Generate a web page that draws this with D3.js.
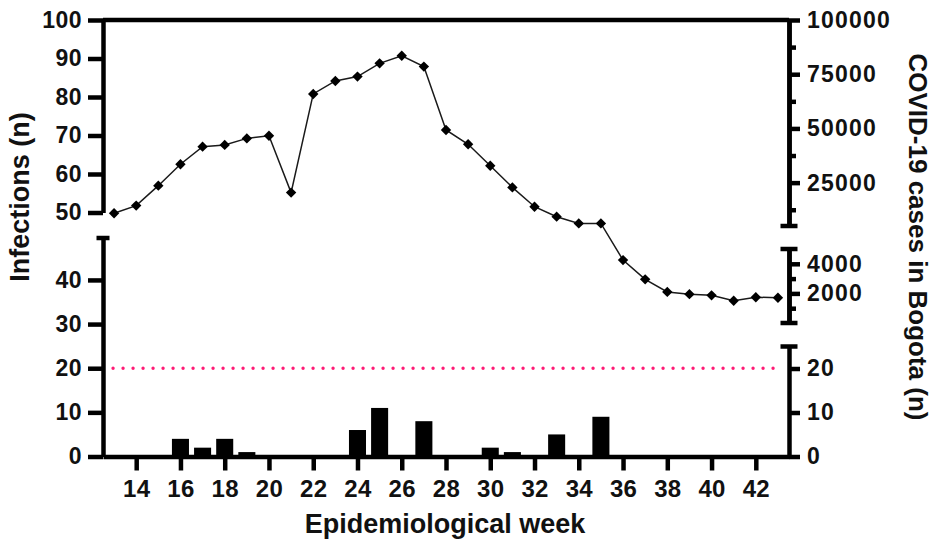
<!DOCTYPE html>
<html>
<head>
<meta charset="utf-8">
<script src="https://cdn.jsdelivr.net/npm/d3@7"></script>
<style>
  body { margin: 0; background: #fff; }
</style>
</head>
<body>
<div id="chart"></div>
<script>
// Values
const weeks = [13, 14, 15, 16, 17, 18, 19, 20, 21, 22, 23, 24, 25, 26, 27, 28,
               29, 30, 31, 32, 33, 34, 35, 36, 37, 38, 39, 40, 41, 42, 43];
const infections = [0, 0, 0, 4, 2, 4, 1, 0, 0, 0, 0, 6, 11, 0, 8, 0,
                    0, 2, 1, 0, 5, 0, 9, 0, 0, 0, 0, 0, 0, 0, 0];
const cases = [10900, 14400, 23600, 33500, 41600, 42400, 45400, 46600, 20400, 65900, 71900,
               73900, 80000, 83500, 78500, 49300, 42700, 32800, 22800, 13900, 9300, 6200,
               6200, 4250, 2950, 2100, 1950, 1870, 1500, 1740, 1710];
const threshold = 20;

// Tick labels
const weekTicks = [14, 16, 18, 20, 22, 24, 26, 28, 30, 32, 34, 36, 38, 40, 42];
const leftTicksLow = [0, 10, 20, 30, 40];
const leftTicksHigh = [50, 60, 70, 80, 90, 100];
const rightTicksLow = [0, 10, 20];
const rightTicksMid = [2000, 4000];
const rightMinorMid = [1000, 3000];
const rightTicksHigh = [25000, 50000, 75000, 100000];
const rightMinorHigh = [12500, 37500, 62500, 87500];

const width = 935, height = 545;
const FONT = "Arial, 'Liberation Sans', Helvetica, sans-serif";
const axisW = 4.5;

const svg = d3.select("#chart")
  .append("svg")
  .attr("width", width)
  .attr("height", height);

// x scale (weeks)
const x = d3.scaleLinear().domain([12.5, 43.5]).range([103, 789]);
const xL = x.range()[0], xR = x.range()[1];

// broken y scales
const yLeftLow = d3.scaleLinear().domain([0, 49.5]).range([456.5, 238]);
const yLeftHigh = d3.scaleLinear().domain([50, 100]).range([212.5, 20]);
const yRightLow = d3.scaleLinear().domain([0, 25]).range([456.5, 346.5]);
const yRightMid = d3.scaleLinear().domain([0, 5000]).range([323, 249]);
const yRightHigh = d3.scaleLinear().domain([5000, 100000]).range([226, 20]);
const yCases = v => v <= 5000 ? yRightMid(v) : yRightHigh(v);

function styleAxis(g, size, spacing) {
  g.attr("font-family", FONT).attr("font-size", size || 23).attr("font-weight", "bold");
  g.select(".domain").attr("stroke", "#000").attr("stroke-width", axisW);
  g.selectAll(".tick line").attr("stroke", "#000").attr("stroke-width", axisW);
  g.selectAll(".tick text").attr("fill", "#111").attr("letter-spacing", spacing || 0);
}

function cap(xc, y, half) {
  svg.append("line")
    .attr("x1", xc - half).attr("x2", xc + half)
    .attr("y1", y).attr("y2", y)
    .attr("stroke", "#000").attr("stroke-width", axisW);
}

// bars (infections)
const bw = (x(1) - x(0)) * 0.77;
svg.append("g")
  .selectAll("rect")
  .data(weeks.map((w, i) => ({ week: w, n: infections[i] })).filter(d => d.n > 0))
  .enter()
  .append("rect")
  .attr("x", d => x(d.week) - bw / 2)
  .attr("width", bw)
  .attr("y", d => yLeftLow(d.n))
  .attr("height", d => yLeftLow(0) - yLeftLow(d.n))
  .attr("fill", "#000");

// threshold dotted line
svg.append("line")
  .attr("x1", x(weeks[0]) - 1).attr("x2", x(weeks[weeks.length - 1]) + 1)
  .attr("y1", yLeftLow(threshold)).attr("y2", yLeftLow(threshold))
  .attr("stroke", "#ff1a75")
  .attr("stroke-width", 3.4)
  .attr("stroke-linecap", "round")
  .attr("stroke-dasharray", "0,10");

// top frame line
svg.append("line")
  .attr("x1", xL).attr("x2", xR)
  .attr("y1", yLeftHigh(100)).attr("y2", yLeftHigh(100))
  .attr("stroke", "#000").attr("stroke-width", axisW);

// left axis, two segments
svg.append("g")
  .attr("transform", `translate(${xL},0)`)
  .call(d3.axisLeft(yLeftLow).tickValues(leftTicksLow).tickSize(15).tickPadding(6).tickSizeOuter(0))
  .call(g => styleAxis(g, 23, 0.5));
cap(xL, yLeftLow(49.5), 6.5);

svg.append("g")
  .attr("transform", `translate(${xL},0)`)
  .call(d3.axisLeft(yLeftHigh).tickValues(leftTicksHigh).tickSize(15).tickPadding(6).tickSizeOuter(0))
  .call(g => styleAxis(g, 23, 0.5));

// right axis, three segments
svg.append("g")
  .attr("transform", `translate(${xR},0)`)
  .call(d3.axisRight(yRightLow).tickValues(rightTicksLow).tickSize(11).tickPadding(7).tickSizeOuter(0))
  .call(g => styleAxis(g, 23, 1.2));
cap(xR, yRightLow(25), 8.5);

svg.append("g")
  .attr("transform", `translate(${xR},0)`)
  .call(d3.axisRight(yRightMid).tickValues(rightTicksMid).tickFormat(d3.format("d")).tickSize(11).tickPadding(7).tickSizeOuter(0))
  .call(g => styleAxis(g, 23, 1.2));
svg.append("g")
  .attr("transform", `translate(${xR},0)`)
  .call(d3.axisRight(yRightMid).tickValues(rightMinorMid).tickFormat("").tickSize(7).tickSizeOuter(0))
  .call(g => styleAxis(g));
cap(xR, yRightMid(0), 8.5);
cap(xR, yRightMid(5000), 8.5);

svg.append("g")
  .attr("transform", `translate(${xR},0)`)
  .call(d3.axisRight(yRightHigh).tickValues(rightTicksHigh).tickFormat(d3.format("d")).tickSize(11).tickPadding(7).tickSizeOuter(0))
  .call(g => styleAxis(g, 23, 1.2));
svg.append("g")
  .attr("transform", `translate(${xR},0)`)
  .call(d3.axisRight(yRightHigh).tickValues(rightMinorHigh).tickFormat("").tickSize(7).tickSizeOuter(0))
  .call(g => styleAxis(g));
cap(xR, yRightHigh(5000), 8.5);

// x axis
svg.append("g")
  .attr("transform", `translate(0,${yLeftLow(0)})`)
  .call(d3.axisBottom(x).tickValues(weekTicks).tickSize(14).tickPadding(9).tickSizeOuter(0))
  .call(g => styleAxis(g, 24, 0.3));

// cases line + diamond markers
const pts = weeks.map((w, i) => ({ week: w, v: cases[i] }));
svg.append("path")
  .datum(pts)
  .attr("fill", "none")
  .attr("stroke", "#1a1a1a")
  .attr("stroke-width", 1.5)
  .attr("d", d3.line().x(d => x(d.week)).y(d => yCases(d.v)));

svg.append("g")
  .selectAll("path")
  .data(pts)
  .enter()
  .append("path")
  .attr("d", d3.symbol(d3.symbolSquare, 54))
  .attr("transform", d => `translate(${x(d.week)},${yCases(d.v)}) rotate(45)`)
  .attr("fill", "#000");

// axis titles
svg.append("text")
  .attr("transform", "translate(29,197) rotate(-90)")
  .attr("text-anchor", "middle")
  .attr("font-family", FONT).attr("font-weight", "bold").attr("font-size", 27)
  .attr("fill", "#111")
  .text("Infections (n)");

svg.append("text")
  .attr("transform", "translate(909,237) rotate(90)")
  .attr("text-anchor", "middle")
  .attr("font-family", FONT).attr("font-weight", "bold").attr("font-size", 26)
  .attr("fill", "#111")
  .text("COVID-19 cases in Bogota (n)");

svg.append("text")
  .attr("x", 445).attr("y", 533)
  .attr("text-anchor", "middle")
  .attr("font-family", FONT).attr("font-weight", "bold").attr("font-size", 27)
  .attr("fill", "#111")
  .text("Epidemiological week");
</script>
</body>
</html>
